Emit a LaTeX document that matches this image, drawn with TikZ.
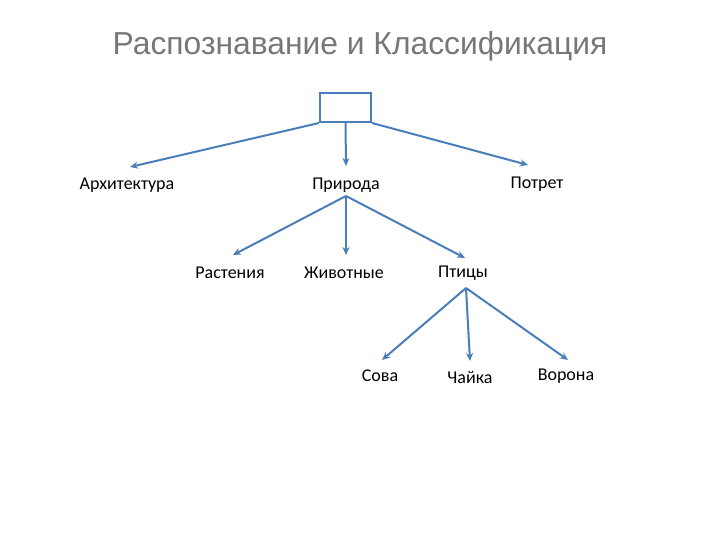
\documentclass[tikz,border=0pt]{standalone}
\usepackage{fontspec}
\setmainfont{Carlito}
\newfontfamily\titlefont{Liberation Sans}
\usetikzlibrary{arrows.meta}
\definecolor{linec}{HTML}{4A7EBB}
\definecolor{titlec}{HTML}{777777}
\tikzset{
  conn/.style={draw=linec, line width=2bp, -{Stealth[length=8bp,width=7bp]}},
  lbl/.style={font=\fontsize{18bp}{21bp}\selectfont, text=black, inner sep=0pt}
}
\begin{document}
\begin{tikzpicture}[x=1bp,y=-1bp]
\useasboundingbox (0,0) rectangle (720,540);
\node[font=\titlefont\fontsize{31.8bp}{36bp}\selectfont, text=titlec] (title) at (360,46) {Распознавание и Классификация};
\node[draw=linec, line width=2bp, minimum width=51bp, minimum height=29bp, inner sep=0pt] (root) at (345.5,107.5) {};
\node[lbl] (arch) at (127,185) {Архитектура};
\node[lbl] (nat) at (346,185) {Природа};
\node[lbl] (port) at (537,184) {Потрет};
\node[lbl] (plant) at (230,273) {Растения};
\node[lbl] (anim) at (344,273) {Животные};
\node[lbl] (bird) at (463,273) {Птицы};
\node[lbl] (owl) at (380,376) {Сова};
\node[lbl] (gull) at (470,377) {Чайка};
\node[lbl] (crow) at (566,376) {Ворона};
\coordinate (natTop) at (346,196);
\coordinate (birdTop) at (466,288);
\coordinate (t1) at (130,167);
\coordinate (t2) at (346,166);
\coordinate (t3) at (528,165);
\coordinate (t4) at (233,255);
\coordinate (t5) at (346,255);
\coordinate (t6) at (465,258);
\coordinate (t7) at (382,360);
\coordinate (t8) at (470,361);
\coordinate (t9) at (568,360);
\draw[conn] (root.south west) -- (t1);
\draw[conn] (root.south) -- (t2);
\draw[conn] (root.south east) -- (t3);
\draw[conn] (natTop) -- (t4);
\draw[conn] (natTop) -- (t5);
\draw[conn] (natTop) -- (t6);
\draw[conn] (birdTop) -- (t7);
\draw[conn] (birdTop) -- (t8);
\draw[conn] (birdTop) -- (t9);
\end{tikzpicture}
\end{document}
